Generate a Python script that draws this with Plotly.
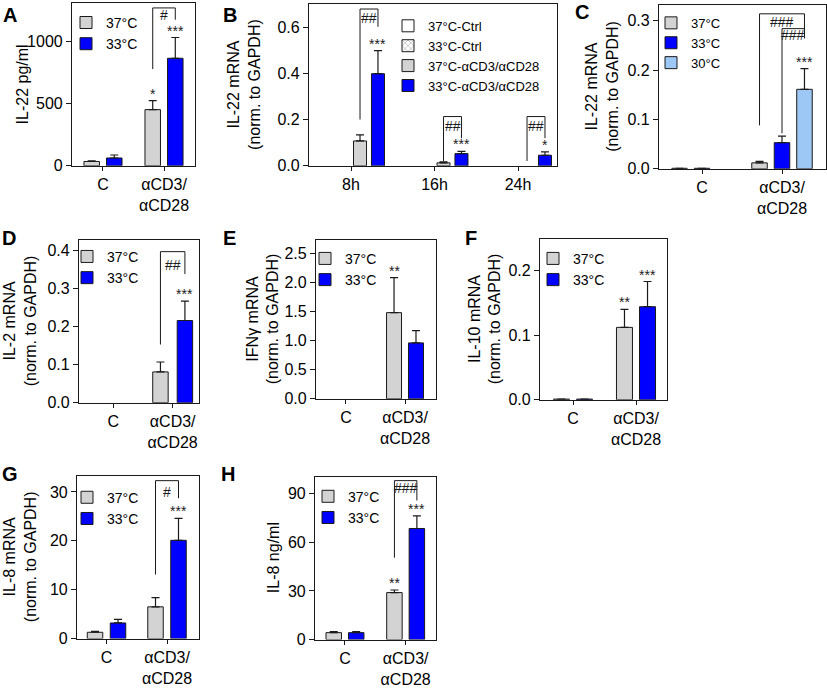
import plotly.graph_objects as go

W, H = 827, 695
FONT = "Arial, Liberation Sans, sans-serif"
INK = "#1a1a1a"
GRAY = "#d3d3d3"
BLUE = "#0000ff"
LIGHTBLUE = "#9dc7f4"

ab_cats = ["C", "αCD3/<br>αCD28"]
time_cats = ["8h", "16h", "24h"]

# A - IL-22 pg/ml
a_37 = [35, 452]
a_37_err = [4, 72]
a_33 = [63, 865]
a_33_err = [24, 167]

# B - IL-22 mRNA time course (controls not detectable)
b_ctrl37 = [None, None, None]
b_ctrl33 = [None, None, None]
b_act37 = [0.108, 0.013, None]
b_act37_err = [0.026, 0.004, 0]
b_act33 = [0.40, 0.053, 0.046]
b_act33_err = [0.10, 0.010, 0.015]

# C - IL-22 mRNA at 37/33/30
c_37 = [0.001, 0.012]
c_37_err = [0, 0.003]
c_33 = [0.001, 0.053]
c_33_err = [0, 0.013]
c_30 = [None, 0.161]
c_30_err = [0, 0.042]

# D - IL-2 mRNA
d_37 = [None, 0.081]
d_37_err = [0, 0.026]
d_33 = [None, 0.216]
d_33_err = [0, 0.051]

# E - IFNy mRNA
e_37 = [None, 1.48]
e_37_err = [0, 0.60]
e_33 = [None, 0.96]
e_33_err = [0, 0.21]

# F - IL-10 mRNA
f_37 = [0.001, 0.112]
f_37_err = [0, 0.028]
f_33 = [0.001, 0.144]
f_33_err = [0, 0.039]

# G - IL-8 mRNA
g_37 = [1.3, 6.5]
g_37_err = [0.2, 1.9]
g_33 = [3.2, 20.1]
g_33_err = [0.75, 4.5]

# H - IL-8 ng/ml
h_37 = [4.3, 29.0]
h_37_err = [0.6, 1.6]
h_33 = [4.3, 68.5]
h_33_err = [0.6, 7.8]

fig = go.Figure()


def add_panel(i, letter, frame, xr, yr, yticks, ytitle, cats, series, width,
              legend_pos, legend_font, title_x, letter_pos, tickfmt=None):
    l, t, r, b = frame
    xa, ya = ("x%d" % i, "y%d" % i) if i > 1 else ("x", "y")
    lg = "legend%d" % i if i > 1 else "legend"
    for s in series:
        fig.add_trace(go.Bar(
            x=cats, y=s["y"], name=s["name"],
            offset=s["off"] - width / 2, width=width,
            marker=dict(color=s["color"], line=dict(color=INK, width=1),
                        pattern=s.get("pattern", {})),
            error_y=dict(type="data", array=s["err"], arrayminus=[0] * len(cats),
                         symmetric=False, color=INK, thickness=1.2, width=4),
            xaxis=xa, yaxis=ya, legend=lg, hoverinfo="skip",
        ))
        for k, st in enumerate(s.get("stars", [])):
            if st:
                fig.add_annotation(x=k + s["off"], y=(s["y"][k] or 0) + s["err"][k],
                                   xref=xa, yref=ya, text=st, showarrow=False,
                                   yanchor="bottom", yshift=-3,
                                   font=dict(size=14, color=INK))
    axis_common = dict(showline=True, mirror=True, linecolor=INK, linewidth=1.2,
                       showgrid=False, zeroline=False, ticks="outside",
                       tickcolor=INK, tickfont=dict(size=16, color="black", family=FONT))
    fig.update_layout(**{
        ("xaxis%d" % i if i > 1 else "xaxis"): dict(
            axis_common, domain=[l / W, r / W], range=xr, type="category",
            anchor=ya, ticklen=4, fixedrange=True),
        ("yaxis%d" % i if i > 1 else "yaxis"): dict(
            axis_common, domain=[1 - b / H, 1 - t / H], range=yr, anchor=xa,
            tickvals=yticks, tickformat=tickfmt, ticklen=5, fixedrange=True),
        lg: dict(x=(legend_pos[0] - 20) / W, y=1 - (legend_pos[1] - 9) / H,
                 xanchor="left", yanchor="top", bgcolor="rgba(0,0,0,0)",
                 font=dict(size=legend_font, color="black", family=FONT),
                 itemwidth=30, tracegroupgap=0),
    })
    fig.add_annotation(xref="paper", yref="paper", x=title_x / W, y=1 - (t + b) / 2 / H,
                       text=ytitle, textangle=-90, showarrow=False,
                       xanchor="center", yanchor="middle",
                       font=dict(size=16, color="black"))
    fig.add_annotation(xref="paper", yref="paper", x=letter_pos[0] / W,
                       y=1 - letter_pos[1] / H, text="<b>%s</b>" % letter,
                       showarrow=False, xanchor="center", yanchor="middle",
                       font=dict(size=20, color="black"))
    return xa, ya


def bracket(xa, ya, x0, x1, y0, y1, ytop, label, ylabel):
    for (p, q, u, v) in [(x0, x0, y0, ytop), (x0, x1, ytop, ytop), (x1, x1, ytop, y1)]:
        fig.add_shape(type="line", xref=xa, yref=ya, x0=p, x1=q, y0=u, y1=v,
                      line=dict(color=INK, width=1))
    fig.add_annotation(x=(x0 + x1) / 2, y=ylabel, xref=xa, yref=ya, text=label,
                       showarrow=False, font=dict(size=14, color=INK))


# Panel A
xa, ya = add_panel(1, "A", (72, 3, 195, 168), [-0.508, 1.508], [0, 1310], [0, 500, 1000],
                   "IL-22 pg/ml", ab_cats,
                   [dict(name="37°C", y=a_37, err=a_37_err, color=GRAY, off=-0.185, stars=["", "*"]),
                    dict(name="33°C", y=a_33, err=a_33_err, color=BLUE, off=0.185, stars=["", "***"])],
                   0.254, (86, 16), 14, 22, (10, 15))
bracket(xa, ya, 1 - 0.185, 1 + 0.185, 778, 1175, 1270, "#", 1214)

# Panel B
xa, ya = add_panel(2, "B", (309, 4, 557, 168), [-0.503, 2.467], [0, 0.703], [0, 0.2, 0.4, 0.6],
                   "IL-22 mRNA<br>(norm. to GAPDH)", time_cats,
                   [dict(name="37°C-Ctrl", y=b_ctrl37, err=[0, 0, 0], color="white", off=-0.323),
                    dict(name="33°C-Ctrl", y=b_ctrl33, err=[0, 0, 0], color="white", off=-0.108,
                         pattern=dict(shape="x", fgcolor=INK, bgcolor="white", size=5)),
                    dict(name="37°C-αCD3/αCD28", y=b_act37, err=b_act37_err, color=GRAY, off=0.108),
                    dict(name="33°C-αCD3/αCD28", y=b_act33, err=b_act33_err, color=BLUE, off=0.323,
                         stars=["***", "***", "*"])],
                   0.156, (408, 20), 13, 244, (230, 15), ".1f")
bracket(xa, ya, 0.108, 0.323, 0.201, 0.604, 0.681, "##", 0.642)
bracket(xa, ya, 1.108, 1.323, 0.021, 0.12, 0.214, "##", 0.175)
bracket(xa, ya, 2.108, 2.323, 0.021, 0.12, 0.214, "##", 0.175)
fig.add_annotation(x=0.5, y=-0.035, xref=xa, yref=ya, text="·", showarrow=False,
                   font=dict(size=10, color=INK))

# Panel C
xa, ya = add_panel(3, "C", (659, 5, 826, 171), [-0.5375, 1.55], [0, 0.332], [0, 0.1, 0.2, 0.3],
                   "IL-22 mRNA<br>(norm. to GAPDH)", ab_cats,
                   [dict(name="37°C", y=c_37, err=c_37_err, color=GRAY, off=-0.281),
                    dict(name="33°C", y=c_33, err=c_33_err, color=BLUE, off=0.0),
                    dict(name="30°C", y=c_30, err=c_30_err, color=LIGHTBLUE, off=0.281,
                         stars=["", "***"])],
                   0.194, (671, 17), 13, 602, (582, 12), ".1f")
bracket(xa, ya, 1 - 0.281, 1 + 0.281, 0.088, 0.266, 0.314, "###", 0.298)
bracket(xa, ya, 1.0, 1 + 0.281, 0.072, 0.264, 0.284, "###", 0.272)

# Panel D
xa, ya = add_panel(4, "D", (79, 243, 199, 408), [-0.577, 1.443], [0, 0.428],
                   [0, 0.1, 0.2, 0.3, 0.4],
                   "IL-2 mRNA<br>(norm. to GAPDH)", ab_cats,
                   [dict(name="37°C", y=d_37, err=d_37_err, color=GRAY, off=-0.206),
                    dict(name="33°C", y=d_33, err=d_33_err, color=BLUE, off=0.206,
                         stars=["", "***"])],
                   0.26, (87, 253), 14, 20, (9, 241), ".1f")
bracket(xa, ya, 1 - 0.206, 1 + 0.206, 0.153, 0.338, 0.397, "##", 0.361)

# Panel E
add_panel(5, "E", (316, 243, 436, 404), [-0.508, 1.525], [0, 2.73],
          [0, 0.5, 1.0, 1.5, 2.0, 2.5],
          "IFNγ mRNA<br>(norm. to GAPDH)", ab_cats,
          [dict(name="37°C", y=e_37, err=e_37_err, color=GRAY, off=-0.186, stars=["", "**"]),
           dict(name="33°C", y=e_33, err=e_33_err, color=BLUE, off=0.186)],
          0.254, (325, 255), 14, 263, (230, 241), ".1f")

# Panel F
add_panel(6, "F", (540, 242, 667, 405), [-0.524, 1.492], [0, 0.249], [0, 0.1, 0.2],
          "IL-10 mRNA<br>(norm. to GAPDH)", ab_cats,
          [dict(name="37°C", y=f_37, err=f_37_err, color=GRAY, off=-0.183, stars=["", "**"]),
           dict(name="33°C", y=f_33, err=f_33_err, color=BLUE, off=0.183, stars=["", "***"])],
          0.254, (553, 255), 14, 485, (471, 241), ".1f")

# Panel G
xa, ya = add_panel(7, "G", (77, 482, 199, 647), [-0.488, 1.529], [0, 33.3], [0, 10, 20, 30],
                   "IL-8 mRNA<br>(norm. to GAPDH)", ab_cats,
                   [dict(name="37°C", y=g_37, err=g_37_err, color=GRAY, off=-0.19),
                    dict(name="33°C", y=g_33, err=g_33_err, color=BLUE, off=0.19,
                         stars=["", "***"])],
                   0.256, (87, 497), 14, 20, (10, 480))
bracket(xa, ya, 1 - 0.19, 1 + 0.19, 13.1, 28.7, 32.3, "#", 29.9)

# Panel H
xa, ya = add_panel(8, "H", (315, 483, 436, 648), [-0.494, 1.5], [0, 100.4], [0, 30, 60, 90],
                   "IL-8 ng/ml", ab_cats,
                   [dict(name="37°C", y=h_37, err=h_37_err, color=GRAY, off=-0.185,
                         stars=["", "**"]),
                    dict(name="33°C", y=h_33, err=h_33_err, color=BLUE, off=0.185,
                         stars=["", "***"])],
                   0.255, (328, 496), 14, 273, (228, 480))
bracket(xa, ya, 1 - 0.185, 1 + 0.185, 50.5, 85.8, 98, "###", 93.7)

fig.update_layout(
    width=W, height=H,
    margin=dict(l=0, r=0, t=0, b=0),
    barmode="overlay",
    font=dict(family=FONT, color="black"),
    plot_bgcolor="white",
    paper_bgcolor="white",
)

# drop the browser's default body margin so the figure sits at the page origin
fig.write_html("out.html", config={"displayModeBar": False},
               post_script="document.body.style.margin='0';document.body.style.overflow='hidden';")
